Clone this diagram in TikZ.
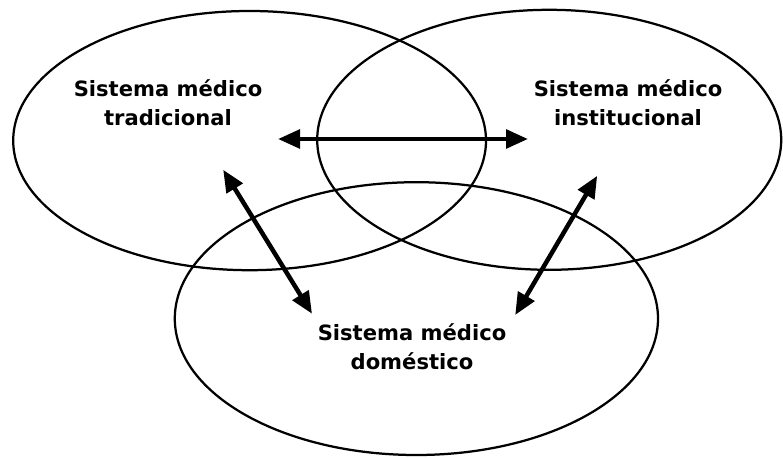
\documentclass[tikz,border=0pt]{standalone}
\usepackage{fontspec}
\setmainfont{DejaVu Sans}
\usetikzlibrary{arrows.meta}
\tikzset{
  sysring/.style={line width=1.6pt},
  linkarrow/.style={line width=3.2pt,{Triangle[length=0.55cm,width=0.46cm]}-{Triangle[length=0.55cm,width=0.46cm]}},
  syslabel/.style={align=center,font=\bfseries\fontsize{15}{20.5}\selectfont}
}
\begin{document}
\begin{tikzpicture}
\useasboundingbox (0,0) rectangle (19.575,11.425);
%\draw[step=0.5cm,gray,very thin] (0,0) grid (19.5,11.4);
\draw[sysring] (6.24,7.91) ellipse (5.91cm and 3.24cm);
\draw[sysring] (13.73,7.93) ellipse (5.80cm and 3.25cm);
\draw[sysring] (10.41,3.46) ellipse (6.04cm and 3.41cm);
\node[syslabel] (trad) at (4.20,8.85) {Sistema médico\\tradicional};
\node[syslabel] (inst) at (15.70,8.85) {Sistema médico\\institucional};
\node[syslabel] (dom) at (10.30,2.75) {Sistema médico\\doméstico};
\coordinate (tradR) at (6.95,7.95);
\coordinate (instL) at (13.20,7.95);
\coordinate (tradB) at (5.58,7.18);
\coordinate (domL) at (7.80,3.58);
\coordinate (instB) at (14.93,7.03);
\coordinate (domR) at (12.88,3.55);
\draw[linkarrow] (tradR) -- (instL);
\draw[linkarrow] (tradB) -- (domL);
\draw[linkarrow] (instB) -- (domR);
\end{tikzpicture}
\end{document}
